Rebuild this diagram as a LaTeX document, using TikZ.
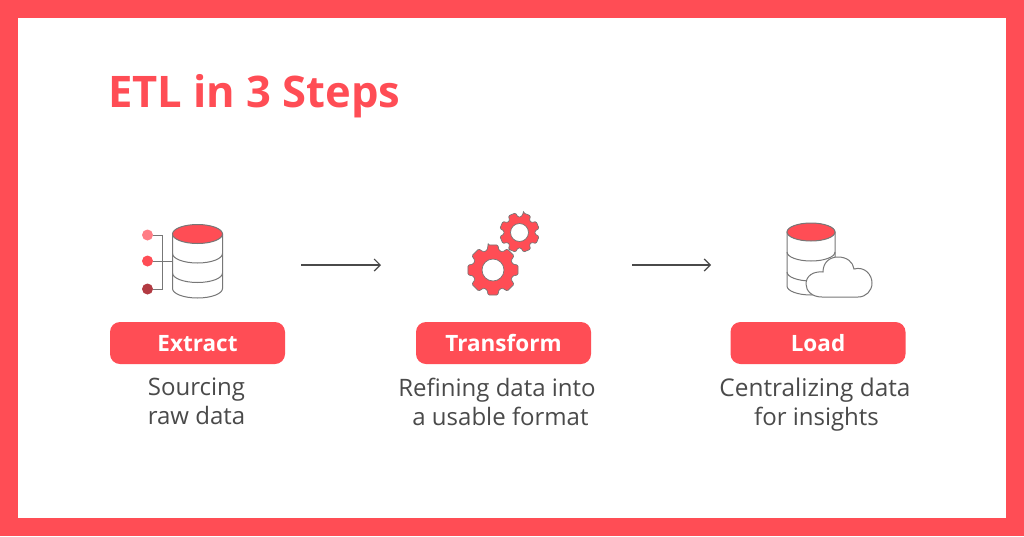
\documentclass[tikz,border=0pt]{standalone}
\usepackage{fontspec}
\setmainfont{Open Sans}
\definecolor{etlred}{HTML}{FF4D55}
\definecolor{etlpink}{HTML}{FF7D85}
\definecolor{etldark}{HTML}{B23A42}
\definecolor{etltext}{HTML}{4A4A4A}
\definecolor{etlline}{HTML}{777777}
\usetikzlibrary{arrows.meta}
\tikzset{
  pill/.style={fill=etlred,rounded corners=10pt,minimum width=175pt,minimum height=42pt,inner sep=0pt,text=white,text height=16pt,text depth=0pt,font=\fontsize{22.5}{23}\selectfont\bfseries},
  caption/.style={text=etltext,align=center,font=\fontsize{24}{29}\selectfont,inner sep=0pt,anchor=north},
  icon/.style={draw=etlline,line width=1pt},
  flow/.style={draw=etltext,line width=1.2pt,-{Straight Barb[length=6pt,width=12pt,line width=1.2pt]}},
  gearbody/.style={fill=etlred,draw=etlline,line width=.7pt,even odd rule,rounded corners=1.2pt},
  dot/.style={circle,minimum size=11pt,inner sep=0pt}
}
\newcommand{\gearshape}[6]{% cx, cy, outer, root, hole, start angle
  \path[gearbody] ([shift={(#1,#2)}]#6-11:#3)
    \foreach \k in {0,...,7} {
      -- ([shift={(#1,#2)}]#6+\k*45-11:#3)
      -- ([shift={(#1,#2)}]#6+\k*45+11:#3)
      -- ([shift={(#1,#2)}]#6+\k*45+17:#4)
      -- ([shift={(#1,#2)}]#6+\k*45+28:#4)
    } -- cycle
    [sharp corners] (#1+#5,#2) arc[start angle=0,end angle=360,radius=#5];
}
\newcommand{\dbicon}[6]{% cx, top, rx, ry, bottom, band step
  \path[icon,fill=white] (#1-#3,#2) -- (#1-#3,#5-#4) arc[start angle=180,end angle=360,x radius=#3,y radius=-#4] -- (#1+#3,#2) -- cycle;
  \draw[icon] (#1-#3,#2+#6) arc[start angle=180,end angle=360,x radius=#3,y radius=-#4];
  \draw[icon] (#1-#3,#2+2*#6) arc[start angle=180,end angle=360,x radius=#3,y radius=-#4];
  \path[icon,fill=etlred] (#1,#2) ellipse[x radius=#3,y radius=#4];
}
\begin{document}
\begin{tikzpicture}[x=1pt,y=-1pt]
\useasboundingbox (0,0) rectangle (1024,536);
\fill[etlred] (0,0) rectangle (1024,536);
\fill[white] (18,18) rectangle (1006,518);
\node[anchor=base west,inner sep=0pt,text=etlred,font=\fontsize{43.5}{44}\selectfont\bfseries] (title) at (108,107.5) {ETL in 3 Steps};

% Extract icon
\node[dot,fill=etlpink] (d1) at (147.5,235) {};
\node[dot,fill=etlred] (d2) at (147.5,261) {};
\node[dot,fill=etldark] (d3) at (147.5,289) {};
\coordinate (j1) at (162,235);
\coordinate (j2) at (162,261);
\coordinate (j3) at (162,289);
\coordinate (dbl) at (172,261);
\draw[icon] (d1) -- (j1) -- (j3) -- (d3);
\draw[icon] (d2) -- (dbl);
\dbicon{197.5}{234}{25}{9.5}{298}{19.5}

% Transform icon
\gearshape{493}{270}{25.5}{20.5}{11}{-90}
\gearshape{519.5}{232.5}{20}{15.5}{9}{-67.5}

% Load icon
\dbicon{811}{232}{24}{9}{295}{20}
\draw[icon,fill=white] (822,297)
  .. controls (812,297) and (806,291) .. (806,284)
  .. controls (806,276) and (813,271) .. (823,272)
  .. controls (823,262) and (830,257) .. (838,257)
  .. controls (847,257) and (853,262) .. (854,269)
  .. controls (865,266) and (872,275) .. (872,283)
  .. controls (872,291) and (866,297) .. (858,297) -- cycle;

% Flow arrows
\coordinate (a1s) at (301,265);
\coordinate (a1e) at (381,265);
\coordinate (a2s) at (632,265);
\coordinate (a2e) at (711,265);
\draw[flow] (a1s) -- (a1e);
\draw[flow] (a2s) -- (a2e);

% Labels
\node[pill] (extract) at (197.5,343) {Extract};
\node[pill] (transform) at (503.5,343) {Transform};
\node[pill] (load) at (818,343) {Load};
\node[caption] (c1) at (196.5,377.5) {Sourcing\\raw data};
\node[caption] (c2) at (497,377.5) {Refining data into\\\hspace*{7pt}a usable format};
\node[caption] (c3) at (815,377.5) {\fontsize{24.4}{29}\selectfont Centralizing data\\\hspace*{3pt}for insights};
\end{tikzpicture}
\end{document}
